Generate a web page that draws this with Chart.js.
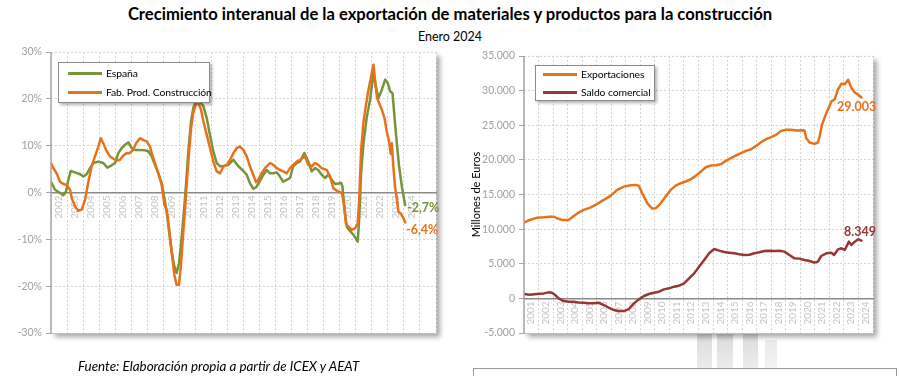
<!DOCTYPE html>
<html><head><meta charset="utf-8">
<script src="https://cdn.jsdelivr.net/npm/chart.js"></script>
<style>
html,body{margin:0;padding:0}
body{width:900px;height:376px;overflow:hidden;background:#fff;font-family:Lato,"Open Sans",sans-serif;position:relative}
.abs{position:absolute}
#titulo{top:4px;left:0;width:900px;text-align:center;font-weight:700;font-size:16.6px;color:#000;white-space:nowrap}
#sub{top:29px;left:0;width:900px;text-align:center;font-size:12.5px;color:#000}
.cv{position:absolute;top:0;width:450px;height:376px}
.leg{position:absolute;background:#fff;border:1px solid #8c8c8c;box-shadow:2px 2px 3px rgba(0,0,0,0.3);z-index:3}
.sw{position:absolute;height:3px}
.lt{position:absolute;font-size:10.4px;color:#000;white-space:nowrap;line-height:12px;letter-spacing:-0.1px}
.val{position:absolute;font-weight:700;font-size:12.5px;white-space:nowrap;z-index:3;line-height:14px}
#fuente{left:78px;top:358px;font-style:italic;font-size:13.4px;color:#000;white-space:nowrap}
#caja{left:473px;top:368px;width:422px;height:20px;border:1px solid #9a9a9a;background:#fff;z-index:2}
.wm{position:absolute;background:linear-gradient(#dcdcdc,#efefef);z-index:0}
</style></head><body>
<div class="wm" style="left:697px;top:334px;width:15px;height:42px"></div>
<div class="wm" style="left:717px;top:334px;width:16px;height:42px"></div>
<div class="wm" style="left:743px;top:334px;width:15px;height:42px"></div>
<div class="wm" style="left:765px;top:340px;width:12px;height:36px;opacity:.6"></div>

<div id="titulo" class="abs">Crecimiento interanual de la exportación de materiales y productos para la construcción</div>
<div id="sub" class="abs">Enero 2024</div>

<div class="cv" style="left:0"><canvas id="c1" width="450" height="376"></canvas></div>
<div class="cv" style="left:450px"><canvas id="c2" width="450" height="376"></canvas></div>

<div class="leg" style="left:58px;top:62px;width:150px;height:39px">
  <div class="sw" style="left:9px;top:9px;width:34px;background:#77933C"></div>
  <div class="lt" style="left:47px;top:4px">España</div>
  <div class="sw" style="left:9px;top:28px;width:34px;background:#E8721C"></div>
  <div class="lt" style="left:47px;top:23px">Fab. Prod. Construcción</div>
</div>
<div class="leg" style="left:535px;top:65px;width:118px;height:34px">
  <div class="sw" style="left:7px;top:7px;width:34px;background:#E8721C"></div>
  <div class="lt" style="left:45px;top:2px">Exportaciones</div>
  <div class="sw" style="left:7px;top:25px;width:34px;background:#953735"></div>
  <div class="lt" style="left:45px;top:20px">Saldo comercial</div>
</div>

<div class="val" style="left:407px;top:201px;color:#77933C">-2,7%</div>
<div class="val" style="left:406px;top:223px;color:#E8721C">-6,4%</div>
<div class="val" style="left:837px;top:100px;color:#E8721C">29.003</div>
<div class="val" style="left:844px;top:225px;color:#953735">8.349</div>

<div id="fuente" class="abs">Fuente: Elaboración propia a partir de ICEX y AEAT</div>
<div id="caja" class="abs"></div>

<script>
// ---- Gráfico izquierdo: crecimiento interanual (%) ----
const aniosIzq = [2002,2003,2004,2005,2006,2007,2008,2009,2010,2011,2012,2013,2014,2015,2016,2017,2018,2019,2020,2021,2022,2023,2024];
const tEspana = [2002.00,2002.25,2002.56,2002.77,2002.94,2003.08,2003.23,2003.50,2003.81,2004.02,2004.22,2004.43,2004.64,2004.95,2005.26,2005.51,2005.78,2005.99,2006.20,2006.41,2006.62,2006.83,2007.03,2007.24,2007.55,2007.86,2008.07,2008.28,2008.48,2008.69,2008.90,2009.07,2009.21,2009.36,2009.52,2009.69,2009.83,2009.98,2010.10,2010.25,2010.40,2010.56,2010.73,2010.87,2011.02,2011.29,2011.50,2011.71,2011.91,2012.12,2012.33,2012.54,2012.75,2013.06,2013.37,2013.68,2014.00,2014.20,2014.40,2014.61,2014.78,2015.00,2015.24,2015.44,2015.65,2015.86,2016.07,2016.27,2016.48,2016.69,2016.90,2017.10,2017.32,2017.52,2017.79,2018.04,2018.25,2018.46,2018.66,2018.87,2019.08,2019.29,2019.50,2019.71,2019.92,2020.08,2020.17,2020.29,2020.44,2020.65,2020.85,2021.00,2021.12,2021.21,2021.33,2021.48,2021.69,2021.89,2022.10,2022.25,2022.41,2022.62,2022.83,2022.99,2023.14,2023.29,2023.41,2023.56,2023.70,2023.87,2024.02,2024.08];
const espana = [2.3,0.6,-0.1,-0.6,0.2,2.7,4.6,4.3,3.9,3.4,3.9,5.2,6.3,6.6,6.3,5.3,5.8,6.3,8.4,9.5,10.2,10.7,9.5,9.1,9.1,9.0,8.8,7.7,5.9,4.1,2.0,-1.2,-4.1,-8.3,-12.6,-15.8,-17.2,-15.1,-11.2,-5.5,0.9,8.8,15.2,18.0,19.4,19.4,18.4,15.9,12.3,8.8,6.3,5.6,5.6,5.9,7.0,5.6,4.6,3.8,2.0,0.8,1.1,2.3,3.8,4.8,4.1,4.1,4.3,3.4,2.3,2.7,3.1,5.6,6.3,6.6,8.4,6.6,4.5,5.2,4.8,3.8,3.1,3.8,2.7,1.8,1.9,2.1,1.3,-3.7,-7.3,-8.3,-9.0,-9.8,-10.5,-5.8,4.0,10.5,16.2,19.8,25.5,22.6,20.2,21.9,24.1,23.4,21.6,21.2,16.2,10.5,5.6,1.3,-1.6,-2.7];
const tFab = [2002.00,2002.10,2002.35,2002.56,2002.77,2002.98,2003.19,2003.29,2003.50,2003.70,2003.91,2004.12,2004.33,2004.54,2004.74,2004.95,2005.10,2005.26,2005.47,2005.68,2005.89,2006.10,2006.30,2006.51,2006.70,2006.90,2007.13,2007.30,2007.55,2007.76,2007.97,2008.17,2008.28,2008.48,2008.69,2008.90,2009.07,2009.21,2009.36,2009.52,2009.69,2009.83,2009.98,2010.10,2010.25,2010.40,2010.56,2010.73,2010.87,2011.02,2011.19,2011.35,2011.50,2011.71,2011.91,2012.12,2012.33,2012.54,2012.75,2012.96,2013.17,2013.37,2013.58,2013.78,2013.99,2014.20,2014.40,2014.61,2014.78,2014.92,2015.13,2015.34,2015.65,2015.86,2016.07,2016.27,2016.48,2016.69,2016.90,2017.10,2017.32,2017.52,2017.83,2018.04,2018.25,2018.46,2018.66,2018.87,2019.19,2019.40,2019.60,2019.81,2019.98,2020.13,2020.29,2020.38,2020.54,2020.75,2020.96,2021.12,2021.21,2021.33,2021.48,2021.62,2021.79,2021.96,2022.10,2022.20,2022.33,2022.45,2022.62,2022.79,2022.93,2023.08,2023.18,2023.25,2023.33,2023.45,2023.51,2023.66,2023.83,2023.97,2024.08];
const fab = [6.3,5.5,4.1,2.3,1.8,1.6,0.6,-1.2,-3.0,-3.9,-3.7,-1.6,2.3,5.6,7.7,9.8,11.6,10.5,8.8,7.7,7.2,6.8,7.0,7.9,8.4,8.4,9.1,10.5,11.6,11.2,10.9,9.8,8.4,6.3,4.1,1.6,-2.6,-3.7,-7.6,-12.6,-17.6,-19.7,-19.7,-15.5,-8.3,-1.2,6.6,13.7,17.0,18.7,19.1,17.7,15.2,12.3,9.5,6.6,4.5,4.1,5.6,5.9,7.0,8.4,9.5,9.8,9.1,7.7,5.6,3.8,2.2,2.7,4.1,5.2,6.3,5.9,5.2,4.8,4.5,4.1,5.2,5.9,6.6,7.0,7.7,5.9,5.6,6.3,5.9,5.2,4.8,3.4,0.9,0.4,0.1,-0.1,-3.0,-6.6,-7.3,-8.0,-7.6,-6.6,-1.6,9.0,15.0,18.4,21.9,24.8,27.3,24.1,20.2,19.1,17.7,15.9,13.0,10.9,8.2,10.5,6.0,1.0,-0.1,-4.1,-4.6,-5.5,-6.4];
const ticksIzq = [-30,-20,-10,0,10,20,30];

// ---- Gráfico derecho: millones de euros ----
const aniosDer = [2001,2002,2003,2004,2005,2006,2007,2008,2009,2010,2011,2012,2013,2014,2015,2016,2017,2018,2019,2020,2021,2022,2023,2024];
const tExport = [2001.00,2001.40,2001.90,2002.35,2002.80,2003.05,2003.27,2003.62,2004.07,2004.42,2004.76,2005.10,2005.57,2006.03,2006.49,2006.95,2007.41,2007.87,2008.33,2008.67,2008.90,2009.13,2009.48,2009.82,2010.05,2010.40,2010.74,2011.09,2011.43,2011.78,2012.12,2012.47,2012.81,2013.16,2013.50,2013.85,2014.19,2014.54,2014.88,2015.23,2015.57,2015.92,2016.26,2016.62,2016.96,2017.30,2017.65,2017.99,2018.33,2018.68,2019.03,2019.37,2019.72,2020.06,2020.29,2020.41,2020.64,2020.98,2021.21,2021.33,2021.49,2021.79,2022.14,2022.37,2022.60,2022.83,2023.06,2023.29,2023.52,2023.75,2023.98,2024.21];
const exportaciones = [10940,11325,11660,11710,11800,11800,11570,11330,11330,11900,12390,12770,13110,13640,14220,14800,15660,16140,16340,16390,16240,15180,13730,12960,13010,13730,14700,15660,16290,16630,16870,17200,17690,18310,18940,19180,19230,19370,19860,20240,20630,20960,21300,21540,22020,22550,22990,23280,23610,24190,24340,24340,24240,24290,24240,23130,22510,22310,22510,23370,25060,26750,28430,28770,30220,30990,30940,31570,30360,29730,29400,29003];
const tSaldo = [2001.00,2001.40,2001.90,2002.35,2002.69,2002.92,2003.15,2003.38,2003.73,2004.07,2004.42,2004.76,2005.10,2005.45,2005.80,2006.14,2006.49,2006.83,2007.18,2007.52,2007.87,2008.21,2008.56,2008.90,2009.25,2009.59,2009.94,2010.28,2010.63,2010.97,2011.32,2011.66,2012.01,2012.35,2012.70,2013.04,2013.39,2013.73,2014.08,2014.42,2014.77,2015.11,2015.46,2015.80,2016.15,2016.50,2016.84,2017.19,2017.53,2017.88,2018.22,2018.57,2018.91,2019.25,2019.60,2019.94,2020.29,2020.64,2020.98,2021.21,2021.44,2021.79,2022.14,2022.32,2022.60,2022.83,2023.06,2023.34,2023.52,2023.75,2023.98,2024.21];
const saldo = [630,530,630,720,870,820,480,0,-390,-480,-480,-580,-630,-720,-720,-630,-960,-1350,-1690,-1830,-1830,-1540,-720,-145,340,630,820,960,1300,1450,1690,1830,2170,2890,3610,4580,5540,6510,7130,6890,6700,6600,6510,6360,6270,6310,6510,6650,6840,6890,6840,6890,6750,6270,5780,5740,5540,5400,5160,5300,6120,6510,6600,6270,7080,7230,6990,8190,7710,8190,8530,8349];
const ticksDer = [-5000,0,5000,10000,15000,20000,25000,30000,35000];

const VERDE = '#77933C', NARANJA = '#E8721C', GRANATE = '#953735';
const pares = (t, v) => t.map((x, i) => ({x: x, y: v[i]}));
const miles = v => String(v).replace(/\B(?=(\d{3})+(?!\d))/g, '.');

const sombra = {
  id: 'sombra',
  beforeDraw(chart) {
    const {ctx, chartArea: a} = chart;
    ctx.save();
    ctx.shadowColor = 'rgba(0,0,0,0.35)';
    ctx.shadowBlur = 5; ctx.shadowOffsetX = 4; ctx.shadowOffsetY = 4;
    ctx.fillStyle = '#fff';
    ctx.fillRect(a.left, a.top, a.right - a.left, a.bottom - a.top);
    ctx.restore();
  },
  afterDatasetsDraw(chart) {
    const {ctx, chartArea: a} = chart;
    ctx.save();
    ctx.strokeStyle = '#a6a6a6'; ctx.lineWidth = 1.5;
    ctx.beginPath(); ctx.moveTo(a.left, a.top); ctx.lineTo(a.left, a.bottom + 1); ctx.stroke();
    ctx.restore();
  }
};

function ejes(anios, minX, maxX, ticksY, fmtY, yWidth, titulo) {
  return {
    x: {
      type: 'linear', position: 'bottom', min: minX, max: maxX,
      afterBuildTicks: s => { const t = []; for (let y = minX; y <= maxX; y++) t.push({value: y}); s.ticks = t; },
      ticks: {display: false},
      grid: {color: '#d4d4d4', lineWidth: 1, drawTicks: false},
      border: {display: true, color: '#bfbfbf', width: 1, dash: [2, 2]},
      afterFit: s => { s.height = 0; }
    },
    xl: {
      type: 'linear', axis: 'x', position: {y: 0}, min: minX, max: maxX,
      afterBuildTicks: s => { s.ticks = anios.map(y => ({value: y + 0.5})); },
      ticks: {
        autoSkip: false, minRotation: 90, maxRotation: 90, padding: 3,
        color: '#c4c4c4', font: {family: 'Lato', size: 10},
        callback: (v, i) => String(anios[i])
      },
      grid: {display: false, drawTicks: false},
      border: {display: true, color: '#8a8a8a', width: 1.5}
    },
    y: {
      type: 'linear', position: 'left', min: ticksY[0], max: ticksY[ticksY.length - 1],
      afterBuildTicks: s => { s.ticks = ticksY.map(v => ({value: v})); },
      ticks: {color: '#a0a0a0', font: {family: 'Lato', size: 10.5}, padding: 4, callback: fmtY},
      grid: {color: '#d4d4d4', lineWidth: 1, drawTicks: true, tickLength: 5, tickColor: '#a6a6a6'},
      border: {display: false, dash: [2, 2]},
      title: titulo ? {display: true, text: titulo, color: '#000', font: {family: 'Lato', size: 11}, padding: {top: 20, bottom: 0}} : {display: false},
      afterFit: s => { s.width = yWidth; }
    }
  };
}

const comunes = {
  responsive: false, animation: false, events: [],
  plugins: {legend: {display: false}, tooltip: {enabled: false}},
  elements: {point: {radius: 0}, line: {borderWidth: 2.5, tension: 0, borderCapStyle: 'round', borderJoinStyle: 'round'}}
};

new Chart(document.getElementById('c1'), {
  type: 'line',
  data: {datasets: [
    {label: 'España', data: pares(tEspana, espana), borderColor: VERDE, order: 2, xAxisID: 'x', yAxisID: 'y'},
    {label: 'Fab. Prod. Construcción', data: pares(tFab, fab), borderColor: NARANJA, order: 1, xAxisID: 'x', yAxisID: 'y'}
  ]},
  options: Object.assign({}, comunes, {
    layout: {padding: {left: 10, top: 52, right: 14, bottom: 43}},
    scales: ejes(aniosIzq, 2002, 2026, ticksIzq, v => v + '%', 41, null)
  }),
  plugins: [sombra]
});

new Chart(document.getElementById('c2'), {
  type: 'line',
  data: {datasets: [
    {label: 'Exportaciones', data: pares(tExport, exportaciones), borderColor: NARANJA, xAxisID: 'x', yAxisID: 'y'},
    {label: 'Saldo comercial', data: pares(tSaldo, saldo), borderColor: GRANATE, xAxisID: 'x', yAxisID: 'y'}
  ]},
  options: Object.assign({}, comunes, {
    layout: {padding: {left: 0, top: 56, right: 27, bottom: 43}},
    scales: ejes(aniosDer, 2001, 2025, ticksDer, v => miles(v), 74, 'Millones de Euros')
  }),
  plugins: [sombra]
});
</script>
</body></html>
